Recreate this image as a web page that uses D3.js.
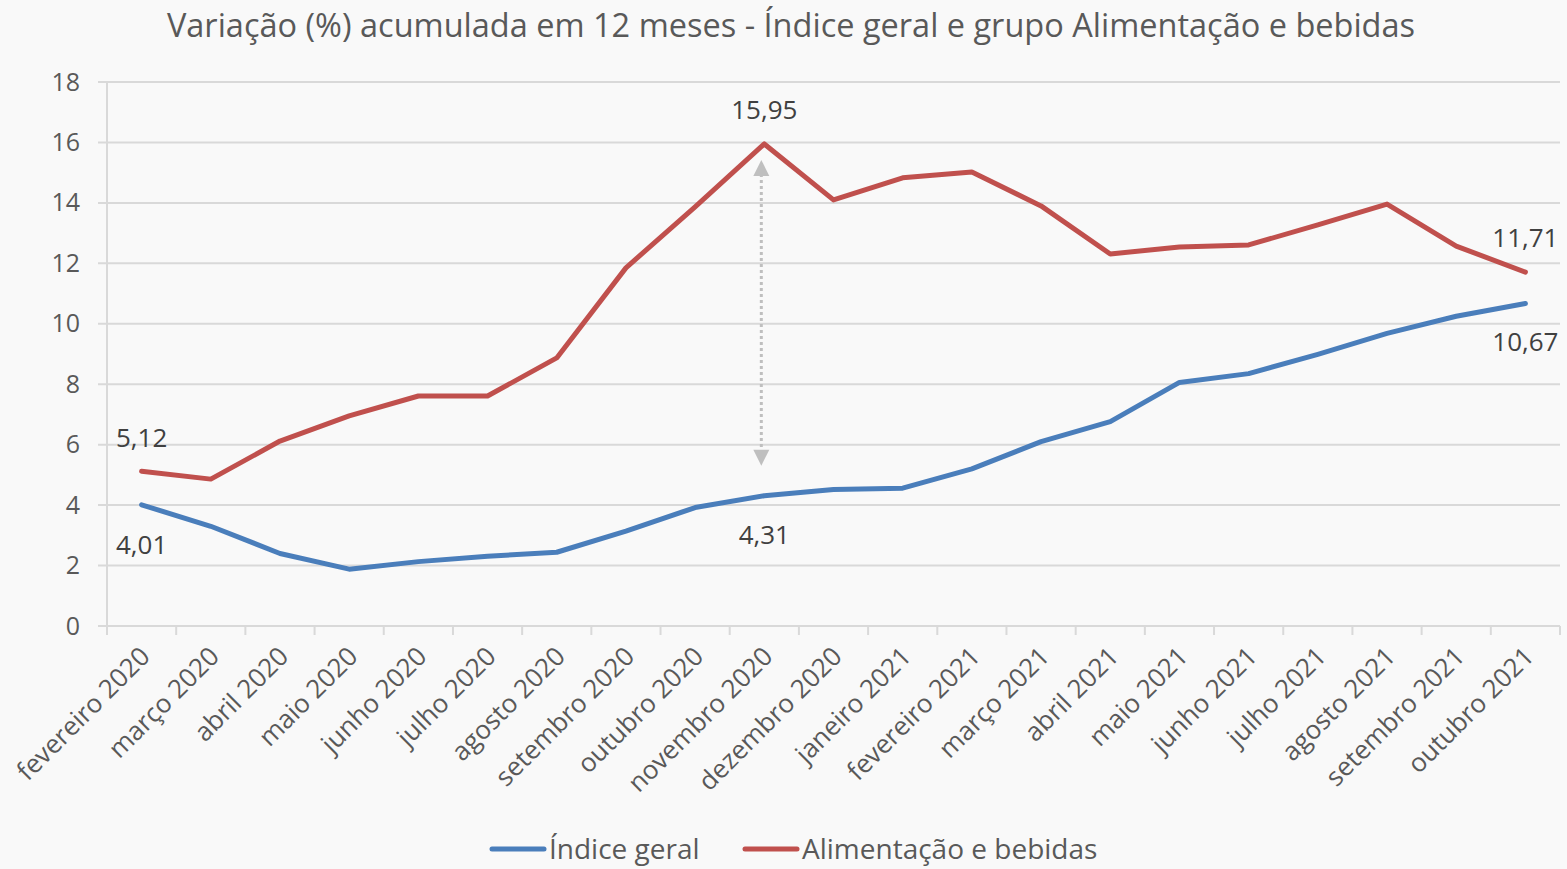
<!DOCTYPE html>
<html>
<head>
<meta charset="utf-8">
<script src="https://cdn.jsdelivr.net/npm/d3@7"></script>
<style>
  body { margin: 0; background: #f9f9f9; }
  text { font-family: "Open Sans", sans-serif; }
</style>
</head>
<body>
<div id="chart"></div>
<script>
const months = ["fevereiro 2020", "março 2020", "abril 2020", "maio 2020", "junho 2020", "julho 2020",
    "agosto 2020", "setembro 2020", "outubro 2020", "novembro 2020", "dezembro 2020", "janeiro 2021",
    "fevereiro 2021", "março 2021", "abril 2021", "maio 2021", "junho 2021", "julho 2021",
    "agosto 2021", "setembro 2021", "outubro 2021"]
const indiceGeral = [4.01, 3.30, 2.40, 1.88, 2.13, 2.31, 2.44, 3.14, 3.92, 4.31, 4.52, 4.56,
    5.20, 6.10, 6.76, 8.06, 8.35, 8.99, 9.68, 10.25, 10.67]
const alimentacao = [5.12, 4.86, 6.12, 6.95, 7.61, 7.61, 8.87, 11.85, 13.87, 15.95, 14.10, 14.83,
    15.02, 13.90, 12.31, 12.54, 12.61, 13.27, 13.96, 12.57, 11.71]
const yTicks = [0, 2, 4, 6, 8, 10, 12, 14, 16, 18]
const seriesNames = ["Índice geral", "Alimentação e bebidas"]
const colors = ["#4a7ebb", "#c0504d"]

const W = 1567, H = 869
const margin = {top: 82, right: 7, bottom: 243, left: 107}
const width = W - margin.left - margin.right
const height = H - margin.top - margin.bottom

const svg = d3.select("#chart").append("svg")
    .attr("width", W)
    .attr("height", H)
svg.append("rect").attr("width", W).attr("height", H).attr("fill", "#f9f9f9")

// titulo
svg.append("text")
    .attr("x", 791).attr("y", 37)
    .attr("text-anchor", "middle")
    .attr("font-size", 32.5)
    .attr("fill", "#595959")
    .text("Variação (%) acumulada em 12 meses - Índice geral e grupo Alimentação e bebidas")

const g = svg.append("g")
    .attr("transform", "translate(" + margin.left + "," + margin.top + ")")

const x = d3.scaleBand().domain(months).range([0, width])
const y = d3.scaleLinear().domain([0, 18]).range([height, 0])
const cx = d => x(d) + x.bandwidth() / 2

// grade horizontal
g.append("g")
    .selectAll("line")
    .data(yTicks)
    .enter().append("line")
    .attr("x1", -9).attr("x2", width)
    .attr("y1", d => y(d)).attr("y2", d => y(d))
    .attr("stroke", "#d9d9d9").attr("stroke-width", 2)

// eixo Y
const yAxis = g.append("g")
    .call(d3.axisLeft(y).tickValues(yTicks).tickSize(0).tickPadding(27))
yAxis.select(".domain").attr("stroke", "#d9d9d9").attr("stroke-width", 2)
    .attr("d", "M0," + (height + 8) + "V0")
yAxis.selectAll("text").attr("font-size", 25).attr("fill", "#595959")
    .attr("font-family", "Open Sans")

// eixo X
const xAxis = g.append("g")
    .attr("transform", "translate(0," + height + ")")
    .call(d3.axisBottom(x).tickSize(0).tickPadding(0))
xAxis.select(".domain").attr("stroke", "#d9d9d9").attr("stroke-width", 2)
    .attr("d", "M0,0H" + width)
xAxis.selectAll(".tick line").remove()
xAxis.selectAll(".tick text")
    .attr("font-size", 26)
    .attr("fill", "#595959")
    .attr("font-family", "Open Sans")
    .style("text-anchor", "end")
    .attr("dx", 0).attr("dy", 0)
    .attr("transform", "translate(10,32) rotate(-45)")
g.append("g")
    .selectAll("line")
    .data(months.concat([null]))
    .enter().append("line")
    .attr("x1", (d, i) => i * x.bandwidth()).attr("x2", (d, i) => i * x.bandwidth())
    .attr("y1", height).attr("y2", height + 9)
    .attr("stroke", "#d9d9d9").attr("stroke-width", 2)

// linhas
const line = d3.line()
    .x((d, i) => cx(months[i]))
    .y(d => y(d))
;[indiceGeral, alimentacao].forEach((s, k) => {
    g.append("path")
        .datum(s)
        .attr("d", line)
        .attr("fill", "none")
        .attr("stroke", colors[k])
        .attr("stroke-width", 5)
        .attr("stroke-linejoin", "round")
        .attr("stroke-linecap", "round")
})

// seta entre novembro 2020
const iNov = months.indexOf("novembro 2020")
const ax = cx(months[iNov]) - 3
const aTop = y(alimentacao[iNov]) + 16
const aBot = y(indiceGeral[iNov]) - 30
g.append("line")
    .attr("x1", ax).attr("x2", ax)
    .attr("y1", aTop + 14).attr("y2", aBot - 14)
    .attr("stroke", "#bfbfbf").attr("stroke-width", 3)
    .attr("stroke-dasharray", "3,3")
g.append("path")
    .attr("d", "M" + ax + "," + aTop + "l-8,16h16z")
    .attr("fill", "#bfbfbf")
g.append("path")
    .attr("d", "M" + ax + "," + aBot + "l-8,-16h16z")
    .attr("fill", "#bfbfbf")

// rotulos de dados
const fmt = v => v.toFixed(2).replace(".", ",")
const labels = [
    {s: alimentacao, i: 0, dy: -24},
    {s: indiceGeral, i: 0, dy: 49},
    {s: alimentacao, i: iNov, dy: -25},
    {s: indiceGeral, i: iNov, dy: 48},
    {s: alimentacao, i: months.length - 1, dy: -25},
    {s: indiceGeral, i: months.length - 1, dy: 47}
]
g.append("g")
    .selectAll("text")
    .data(labels)
    .enter().append("text")
    .attr("x", d => cx(months[d.i]))
    .attr("y", d => y(d.s[d.i]) + d.dy)
    .attr("text-anchor", "middle")
    .attr("font-size", 26)
    .attr("fill", "#404040")
    .text(d => fmt(d.s[d.i]))

// legenda
const legX = [492, 745]
const leg = svg.append("g")
seriesNames.forEach((n, k) => {
    leg.append("line")
        .attr("x1", legX[k]).attr("x2", legX[k] + 52)
        .attr("y1", 849).attr("y2", 849)
        .attr("stroke", colors[k]).attr("stroke-width", 5)
        .attr("stroke-linecap", "round")
    leg.append("text")
        .attr("x", legX[k] + 57).attr("y", 859)
        .attr("font-size", 28)
        .attr("fill", "#595959")
        .text(n)
})
</script>
</body>
</html>
